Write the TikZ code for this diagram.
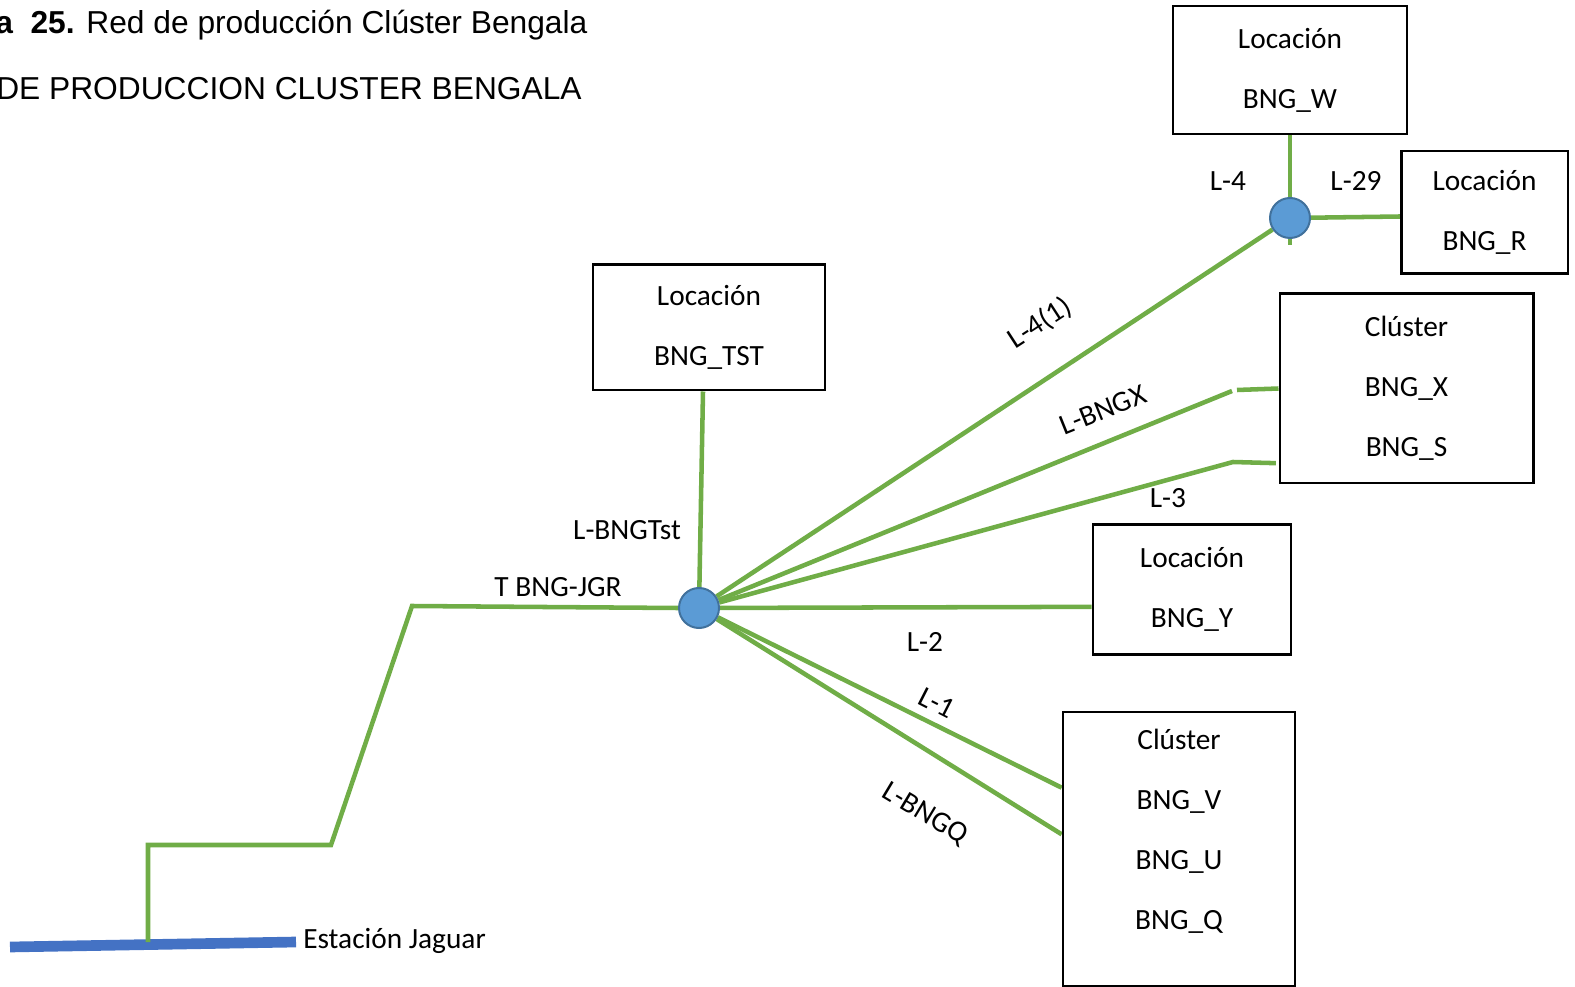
\documentclass[tikz,border=0pt]{standalone}
\usepackage{fontspec}
\setmainfont{Carlito}
\newfontfamily\titlefont{Liberation Sans}
\usetikzlibrary{positioning, backgrounds}
\definecolor{cgreen}{HTML}{70AD47}
\definecolor{cblue}{HTML}{4472C4}
\definecolor{chub}{HTML}{5B9BD5}
\definecolor{chubline}{HTML}{41719C}
\tikzset{
  every picture/.style={font=\fontsize{22}{45}\selectfont},
  box/.style={draw=black, line width=2pt, align=center, inner sep=0pt},
  pipe/.style={draw=cgreen, line width=3.4pt},
  station/.style={draw=cblue, line width=8pt},
  hub/.style={circle, draw=chubline, fill=chub, line width=1.5pt, minimum size=30pt, inner sep=0pt},
  lbl/.style={inner sep=0pt},
  title/.style={font=\titlefont\fontsize{23.8}{28}\selectfont, inner sep=0pt, anchor=west},
}

\begin{document}
\begin{tikzpicture}[x=0.75pt, y=-0.75pt]
  \useasboundingbox (0,0) rectangle (1575,987);

  \node[title] (cap) at (-5,25) {\textbf{a\ \ 25.} Red de producción Clúster Bengala};
  \node[title] (sub) at (-4,89) {DE PRODUCCION CLUSTER BENGALA};

  \node[box, minimum width=175.5pt, minimum height=96pt] (w) at (1290,70) {Locación\\BNG\_W};
  \node[box, minimum width=125pt, minimum height=92pt] (r) at (1484.5,212.5) {Locación\\BNG\_R};
  \node[box, minimum width=174pt, minimum height=94pt] (tst) at (709,327.5) {Locación\\BNG\_TST};
  \node[box, minimum width=190pt, minimum height=142pt] (xs) at (1406.5,388.5) {Clúster\\BNG\_X\\BNG\_S};
  \node[box, minimum width=148.5pt, minimum height=97pt] (y) at (1192,589.5) {Locación\\BNG\_Y};
  \node[box, minimum width=174pt, minimum height=205.5pt] (vuq) at (1179,849) {Clúster\\BNG\_V\\BNG\_U\\BNG\_Q\rule[-30pt]{0pt}{0pt}};

  \node[hub] (hub) at (699,608) {};
  \node[hub] (hubw) at (1290,218) {};

  \coordinate (jgr) at (412,606);
  \coordinate (z1) at (331,845);
  \coordinate (z2) at (148,845);
  \coordinate (z3) at (148,942);
  \coordinate (ja) at (10,947);
  \coordinate (jb) at (296,942);
  \coordinate (kx) at (1232,391);
  \coordinate (kx2) at (1237,390);
  \coordinate (k3) at (1233,462);
  \coordinate (wend) at (1290,245);

  \begin{scope}[on background layer]
    \draw[station] (ja) -- (jb);
    \draw[pipe] (z3) -- (z2) -- (z1) -- (jgr) -- (hub.west);
    \draw[pipe] ([xshift=-4.5pt]tst.south) -- (hub);
    \draw[pipe] (hub) -- (hubw);
    \draw[pipe] (w.south) -- (wend);
    \draw[pipe] (hubw) -- ([yshift=-3pt]r.west);
    \draw[pipe] (hub) -- (kx);
    \draw[pipe] (kx2) -- (xs.west);
    \draw[pipe] (hub) -- (k3) -- ([yshift=-56pt,xshift=-2pt]xs.west);
    \draw[pipe] (hub) -- ([yshift=-13pt]y.west);
    \draw[pipe] (hub) -- ([yshift=46pt]vuq.west);
    \draw[pipe] (hub) -- ([yshift=11pt]vuq.west);
  \end{scope}

  \node[lbl, anchor=west] (jag) at (303,941) {Estación Jaguar};
  \node[lbl] (ljgr) at (558,587) {T BNG-JGR};
  \node[lbl] (ltst) at (627,530) {L-BNGTst};
  \node[lbl, rotate=33] (l41) at (1040,323) {L-4(1)};
  \node[lbl, rotate=22] (lx) at (1103,410) {L-BNGX};
  \node[lbl] (l3) at (1168,498) {L-3};
  \node[lbl] (l2) at (925,642) {L-2};
  \node[lbl, rotate=-27] (l1) at (937,703) {L-1};
  \node[lbl, rotate=-31] (lq) at (925,814) {L-BNGQ};
  \node[lbl] (l4) at (1228,181) {L-4};
  \node[lbl] (l29) at (1356,181) {L-29};
\end{tikzpicture}
\end{document}
